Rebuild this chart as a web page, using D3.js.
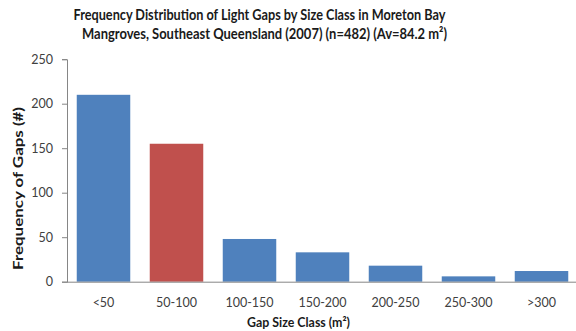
<!DOCTYPE html>
<html>
<head>
<meta charset="utf-8">
<script src="https://cdn.jsdelivr.net/npm/d3@7"></script>
<style>
  html, body { margin: 0; padding: 0; background: #fff; }
  svg { display: block; font-family: Lato, "Open Sans", sans-serif; }
</style>
</head>
<body>
<svg id="chart" width="576" height="331"></svg>
<script>
// Gap size classes and counts of light gaps in each
const categories = ["<50", "50-100", "100-150", "150-200", "200-250", "250-300", ">300"];
const counts = [210, 155, 48, 33, 18, 6, 12];
const highlighted = ["50-100"];
const yTicks = [0, 50, 100, 150, 200, 250];

const svg = d3.select("#chart");
const plotLeft = 67, plotRight = 578, plotBottom = 281.7, plotTop = 59.2;

const x = d3.scaleBand()
  .domain(categories)
  .range([plotLeft, plotRight])
  .paddingInner(0.267)
  .paddingOuter(0.1335);

const y = d3.scaleLinear()
  .domain([0, 250])
  .range([plotBottom, plotTop]);

const axisColor = "#868686";
const textColor = "#404040";
const titleColor = "#1a1a1a";

// Squeeze a text element into a given width
function fit(sel, width) {
  sel.attr("textLength", width).attr("lengthAdjust", "spacingAndGlyphs");
}

// Bars
svg.append("g")
  .selectAll("rect")
  .data(categories.map((c, i) => ({ c, v: counts[i] })))
  .join("rect")
  .attr("x", d => x(d.c))
  .attr("y", d => y(d.v))
  .attr("width", x.bandwidth())
  .attr("height", d => y(0) - y(d.v))
  .attr("fill", d => highlighted.includes(d.c) ? "#C0504D" : "#4F81BD");

// Y axis
const yAxis = svg.append("g")
  .attr("transform", `translate(${plotLeft},0)`)
  .call(d3.axisLeft(y).tickValues(yTicks).tickSize(5).tickPadding(9));
yAxis.select(".domain").attr("stroke", axisColor);
yAxis.selectAll(".tick line").attr("stroke", axisColor);
yAxis.selectAll(".tick text")
  .attr("fill", textColor)
  .style("font-size", "12.5px")
  .style("font-family", "Lato, sans-serif");

// X axis
const xAxis = svg.append("g")
  .attr("transform", `translate(0,${y(0)})`)
  .call(d3.axisBottom(x).tickSize(0).tickPadding(16));
xAxis.select(".domain").attr("stroke", axisColor).attr("d", `M${plotLeft},0.5H${plotRight}`);
xAxis.selectAll(".tick text")
  .attr("fill", textColor)
  .style("font-size", "12.5px")
  .style("font-family", "Lato, sans-serif");

// Title, two lines
svg.append("text")
  .attr("x", 259.5).attr("y", 20)
  .attr("text-anchor", "middle")
  .attr("font-weight", "bold")
  .attr("font-size", 14.5)
  .attr("fill", titleColor)
  .text("Frequency Distribution of Light Gaps by Size Class in Moreton Bay")
  .call(fit, 372);

svg.append("text")
  .attr("x", 264.5).attr("y", 38.5)
  .attr("text-anchor", "middle")
  .attr("font-weight", "bold")
  .attr("font-size", 14.5)
  .attr("fill", titleColor)
  .text("Mangroves, Southeast Queensland (2007) (n=482) (Av=84.2 m²)")
  .call(fit, 365);

// Y axis title
svg.append("text")
  .attr("transform", "translate(23,188.5) rotate(-90)")
  .attr("text-anchor", "middle")
  .attr("font-weight", "bold")
  .attr("font-size", 14)
  .attr("fill", titleColor)
  .text("Frequency of Gaps (#)")
  .call(fit, 163);

// X axis title
svg.append("text")
  .attr("x", 298.5).attr("y", 326.5)
  .attr("text-anchor", "middle")
  .attr("font-weight", "bold")
  .attr("font-size", 13.5)
  .attr("fill", titleColor)
  .text("Gap Size Class (m²)")
  .call(fit, 103);
</script>
</body>
</html>
